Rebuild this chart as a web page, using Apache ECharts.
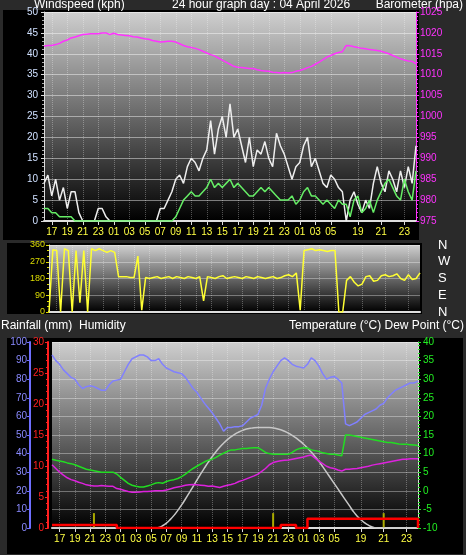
<!DOCTYPE html>
<html><head><meta charset="utf-8">
<script src="https://cdn.jsdelivr.net/npm/echarts@6/dist/echarts.min.js"></script>
<style>html,body{margin:0;padding:0;background:#2a2a2a;}#c{width:466px;height:555px;}</style>
</head><body><div id="c"></div>
<script>
// Time categories: 30-min samples 16:00 (day1) .. 06:30 (day3), then 20-min samples 18:00 .. 00:00
const cats = [];
for (let i = 0; i < 78; i++) { const t = 16*60 + i*30; const h = Math.floor(t/60)%24, m = t%60; cats.push(String(h).padStart(2,'0')+':'+String(m).padStart(2,'0')); }
for (let j = 0; j < 19; j++) { const t = 18*60 + j*20; const h = Math.floor(t/60)%24, m = t%60; cats.push(String(h).padStart(2,'0')+':'+String(m).padStart(2,'0')+'b'); }

const windGust = [9,11,6,10,5,8,3,7,7,2,0,0,0,0,3,3,1,0,0,0,0,0,0,0,0,0,0,0,0,0,3,3,5,7,10,11,9,13,15,14,12,15,17,24,16,22,25,20,28,20,22,18,14,20,13,17,16,19,15,13,21,18,16,13,10,13,14,18,20,13,15,12,9,8,11,10,8,7,
  0,5,7,4,2,5,3,9,13,9,7,12,10,7,12,8,13,9,18];
const windAvg = [3,3,2,2,1,1,1,1,0,0,0,0,0,0,0,0,0,0,0,0,0,0,0,0,0,0,0,0,0,0,0,0,0,0,1,3,5,6,7,6,6,7,8,10,8,9,8,9,10,8,9,8,7,6,6,7,8,7,8,7,6,5,5,5,6,4,5,7,8,6,6,5,4,5,4,3,5,4,
  4,1,5,6,2,3,5,2,5,7,9,10,8,6,5,10,7,5,12];
const pressure = [1016.8,1017,1017,1017.2,1017.5,1018,1018.3,1018.8,1019,1019.3,1019.6,1019.7,1019.8,1019.8,1019.8,1020,1020,1019.6,1019.9,1019.6,1019.5,1019.4,1019.3,1019.1,1019,1018.8,1018.6,1018.5,1018.2,1018,1017.8,1017.9,1018,1018,1017.8,1017.4,1017,1016.7,1016.5,1016.3,1016,1015.6,1015.2,1014.8,1014.5,1014,1013.5,1013,1012.5,1012,1011.8,1011.7,1011.6,1011.5,1011.5,1011.2,1011,1010.9,1010.8,1010.6,1010.5,1010.4,1010.5,1010.4,1010.5,1010.8,1011,1011.3,1011.7,1012,1012.5,1013,1013.6,1014.2,1014.6,1015,1015.3,1015.5,
  1017,1016.9,1016.7,1016.5,1016.3,1016.2,1016,1015.9,1015.8,1015.6,1015.3,1015,1014.6,1014.2,1013.8,1013.5,1013.3,1013.2,1012.6];
const direction = [0,335,330,0,340,330,0,330,50,330,0,340,330,340,330,320,330,320,190,190,190,185,185,300,10,185,180,185,190,180,185,190,180,190,185,180,190,185,180,190,60,190,185,180,190,195,180,185,190,185,180,190,185,180,190,185,180,185,190,180,185,195,200,190,210,10,330,335,340,330,335,330,325,330,330,0,0,170,
  190,160,140,150,190,195,165,170,195,200,190,195,205,180,170,200,175,180,210];
const humidity = [93,90,88,85,83,81,80,77,75,76,76.5,76,75,74,74,77,79,79.5,80,84,88,91,92,93,93,92,90,90,91,88,86,85,84,83.5,83,81,78,75,73,70,67,64.5,62,59,56,52,54,54,54.5,54.5,55,57,59,60,61,66,75,80,84,87,90,91.5,90,88,87,86.5,86,88,91.5,90,87,83,80,81,81.5,80,78,56,
  55,56,57,59,61,62,63,64,66,67,70,72,74,75,76,77,78,78,79];
const temperature = [8.5,8.2,8,7.8,7.5,7.3,7,6.6,6.2,5.8,5.6,5.4,5.2,5,5,5,5,4.5,3.6,2.8,2,1.5,1.2,1,1,1.3,1.6,2,2.2,2,2.5,2.8,3,3.3,3.8,4.5,5.3,6,6.6,7.2,7.8,8.2,8.5,9,9.6,10.1,10.6,11,11,11.2,11.4,11.4,11.5,11.6,11.6,11,10.3,10,9.8,9.8,9.8,9.8,9.8,10.3,11,11.4,11.6,11.5,11,10.8,10.6,10.2,10,9.8,9.8,9.6,9.4,15,
  15,14.8,14.6,14.4,14.2,14,13.8,13.6,13.4,13.2,13,13,12.8,12.6,12.5,12.5,12.4,12.3,12.2];
const dewPoint = [7,6,5,4.2,3.5,3,2.7,2.3,2,1.6,1.4,1.3,1.3,1.4,1.3,1.2,1.2,0.6,0.4,0.1,-0.2,-0.4,-0.4,-0.3,-0.2,-0.2,-0.1,0,0,0,0.2,0.5,0.8,1,1.2,1.5,1.6,1.7,1.6,1.5,1.4,1.2,1.3,1.1,0.9,1.2,1.5,1.7,2,2.5,2.8,3.2,3.6,4,4.5,5.2,6,7,7.6,7.9,8.1,8.2,8.3,8.5,8.7,8.9,9.1,9.4,9.6,8.8,8,7.3,6.6,6.2,6,5.6,5.3,5.8,
  5.8,5.9,6,6.2,6.4,6.6,6.9,7.1,7.3,7.5,7.7,7.9,8.1,8.3,8.5,8.5,8.6,8.6,8.6];
const solar = [0,0,0,0,0,0,0,0,0,0,0,0,0,0,0,0,0,0,0,0,0,0,0,0,0,0,0,0,0.3,1.2,2.6,4.5,6.8,9.5,12.4,15.6,18.9,22.3,25.7,29.1,32.3,35.4,38.3,41,43.4,45.6,47.5,49.1,50.5,51.6,52.5,53.2,53.6,53.9,54,54,54,54,53.8,53.4,52.8,52,51,49.8,48.4,46.8,45,43,40.8,38.4,35.8,33,30,27,24,21,18,15,
  12,9,6.5,4.5,2.8,1.5,0.6,0.1,0,0,0,0,0,0,0,0,0,0,0];
const rainfall = [0.5,0.5,0.5,0.5,0.5,0.5,0.5,0.5,0.5,0.5,0.5,0.5,0.5,0.5,0.5,0.5,0.5,0,0,0,0,0,0,0,0,0,0,0,0,0,0,0,0,0,0,0,0,0,0,0,0,0,0,0,0,0,0,0,0,0,0,0,0,0,0,0,0,0,0,0,0.5,0.5,0.5,0.5,0,0,0,1.5,1.5,1.5,1.5,1.5,1.5,1.5,1.5,1.5,1.5,1.5,
  1.5,1.5,1.5,1.5,1.5,1.5,1.5,1.5,1.5,1.5,1.5,1.5,1.5,1.5,1.5,1.5,1.5,1.5,0];
const dayMarkers = cats.map((c,i)=> (i===11||i===58||i===87) ? 8 : null);
const windTicks = [0,50,5], pressTicks = [975,1025,5], dirTicks = [0,360,90], humTicks=[0,100,10], rainTicks=[0,30,5], tempTicks=[-10,40,5];
const dirNames = {0:'N',90:'E',180:'S',270:'W',360:'N'};

const showLbl = (idx) => { const c = cats[idx]; return c.slice(3,5)==='00' && (+c.slice(0,2))%2===1; };
const F = 'Liberation Sans, Arial, sans-serif';
const bg = new echarts.graphic.LinearGradient(0,0,0,1,[{offset:0,color:'#cfcfcf'},{offset:1,color:'#000'}]);
function xa(gi){ return { type:'category', gridIndex:gi, data:cats, boundaryGap:false,
  axisLine:{lineStyle:{color:'#dddddd',width:2}},
  axisTick:{show:gi!==1, interval:(i)=>showLbl(i), lineStyle:{color:'#ddd'}, length:4},
  axisLabel:{show:gi!==1, interval:(i)=>showLbl(i), formatter:v=>v.slice(0,2), color:'#ffff44', fontSize:10, fontFamily:F, margin:6},
  splitLine:{show:true, interval:(i)=>showLbl(i), lineStyle:{color:'rgba(255,255,255,0.3)',type:'dotted'}} }; }
function ya(gi, t, o){ return Object.assign({ type:'value', gridIndex:gi, min:t[0], max:t[1], interval:t[2], position:'left',
  axisLine:{show:true,lineStyle:{color:'#ddd'}}, axisTick:{show:true,length:3,lineStyle:{color:'#ddd'}},
  minorTick:{show:true,splitNumber:5,length:2,lineStyle:{color:'#aaa'}},
  axisLabel:{fontSize:10,fontFamily:F,margin:4}, splitLine:{show:false} }, o); }

const chart = echarts.init(document.getElementById('c'));
chart.setOption({
  backgroundColor:'#2a2a2a', animation:false,
  graphic:[
    {type:'rect',shape:{x:3,y:10,width:416,height:230},style:{fill:'#000'},z:-10},
    {type:'rect',shape:{x:7,y:243,width:415,height:71},style:{fill:'#000'},z:-10},
    {type:'rect',shape:{x:7,y:338,width:456,height:216},style:{fill:'#000'},z:-10},
    {type:'text',left:34,top:-1,style:{text:'Windspeed (kph)',fill:'#fff',font:'12px '+F}},
    {type:'text',left:172,top:-1,style:{text:'24 hour graph day : 04 April 2026',fill:'#fff',font:'12px '+F}},
    {type:'text',right:3,top:-1,style:{text:'Barometer (hpa)',fill:'#fff',font:'12px '+F}},
    {type:'text',left:1,top:320,style:{text:'Rainfall (mm)  Humidity',fill:'#fff',font:'12px '+F}},
    {type:'text',right:2,top:320,style:{text:'Temperature (°C) Dew Point (°C)',fill:'#fff',font:'12px '+F}}
  ],
  grid:[
    {left:44,right:50,top:12,height:209,show:true,backgroundColor:bg,borderWidth:0},
    {left:49,right:46,top:245,height:67,show:true,backgroundColor:bg,borderWidth:0},
    {left:52,right:48,top:342,height:186,show:true,backgroundColor:bg,borderWidth:0}
  ],
  xAxis:[xa(0),xa(1),xa(2)],
  yAxis:[
    ya(0,windTicks,{axisLabel:{color:'#cfe0ff',fontSize:10,fontFamily:F,margin:6},splitLine:{show:true,lineStyle:{color:'rgba(255,255,255,0.45)'}}}),
    ya(0,pressTicks,{position:'right',axisLine:{show:true,lineStyle:{color:'#ff33ff'}},axisTick:{show:true,length:3,lineStyle:{color:'#ff33ff'}},minorTick:{show:true,splitNumber:5,length:2,lineStyle:{color:'#ff33ff'}},axisLabel:{color:'#ff33ff',fontSize:10,fontFamily:F,margin:4,formatter:v=>String(v)}}),
    ya(1,dirTicks,{axisLabel:{color:'#dddd00',fontSize:9,fontFamily:F,margin:4},axisTick:{show:true,length:3,lineStyle:{color:'#dddd00'}},minorTick:{show:true,splitNumber:3,length:2,lineStyle:{color:'#dddd00'}},splitLine:{show:true,lineStyle:{color:'rgba(255,255,255,0.35)'}}}),
    ya(1,dirTicks,{position:'right',offset:10,axisLine:{show:false},axisTick:{show:false},minorTick:{show:false},axisLabel:{color:'#fff',fontSize:13,fontFamily:F,formatter:v=>dirNames[v]}}),
    ya(2,humTicks,{offset:22,axisLine:{show:true,lineStyle:{color:'#6f6fff',width:2}},axisTick:{show:true,length:3,lineStyle:{color:'#6f6fff'}},minorTick:{show:false},axisLabel:{color:'#8a8aff',fontSize:10,fontFamily:F,margin:3},splitLine:{show:true,lineStyle:{color:'rgba(255,255,255,0.35)'}}}),
    ya(2,rainTicks,{offset:4,axisLine:{show:true,lineStyle:{color:'#ff2020',width:2}},axisTick:{show:true,length:3,lineStyle:{color:'#ff2020'}},minorTick:{show:true,splitNumber:5,length:2,lineStyle:{color:'#ff2020'}},axisLabel:{color:'#ff2020',fontSize:10,fontFamily:F,margin:4}}),
    ya(2,tempTicks,{position:'right',axisLine:{show:true,lineStyle:{color:'#ddd'}},axisTick:{show:true,length:3,lineStyle:{color:'#22ee22'}},minorTick:{show:true,splitNumber:5,length:2,lineStyle:{color:'#22ee22'}},axisLabel:{color:'#22ee22',fontSize:10,fontFamily:F,margin:5}})
  ],
  series:[
    {type:'line',xAxisIndex:0,yAxisIndex:0,data:windGust,showSymbol:false,lineStyle:{color:'#eeeeee',width:1.5},itemStyle:{color:'#eee'}},
    {type:'line',xAxisIndex:0,yAxisIndex:0,data:windAvg,showSymbol:false,lineStyle:{color:'#66ee66',width:1.5}},
    {type:'line',xAxisIndex:0,yAxisIndex:1,data:pressure,showSymbol:false,lineStyle:{color:'#ff33ff',width:1.5}},
    {type:'line',xAxisIndex:1,yAxisIndex:2,data:direction,showSymbol:false,lineStyle:{color:'#ffff33',width:1.5}},
    {type:'line',xAxisIndex:2,yAxisIndex:4,data:humidity,showSymbol:false,lineStyle:{color:'#8080ff',width:1.5}},
    {type:'line',xAxisIndex:2,yAxisIndex:4,data:solar,showSymbol:false,smooth:true,lineStyle:{color:'#c8c8c8',width:1.5}},
    {type:'line',xAxisIndex:2,yAxisIndex:6,data:temperature,showSymbol:false,lineStyle:{color:'#22dd22',width:1.5}},
    {type:'line',xAxisIndex:2,yAxisIndex:6,data:dewPoint,showSymbol:false,lineStyle:{color:'#dd22dd',width:1.5}},
    {type:'line',xAxisIndex:2,yAxisIndex:5,data:rainfall,showSymbol:false,step:'end',lineStyle:{color:'#ff0000',width:2.5}},
    {type:'bar',xAxisIndex:2,yAxisIndex:4,data:dayMarkers,barWidth:2,itemStyle:{color:'#aaaa00'}}
  ]
});
</script></body></html>
